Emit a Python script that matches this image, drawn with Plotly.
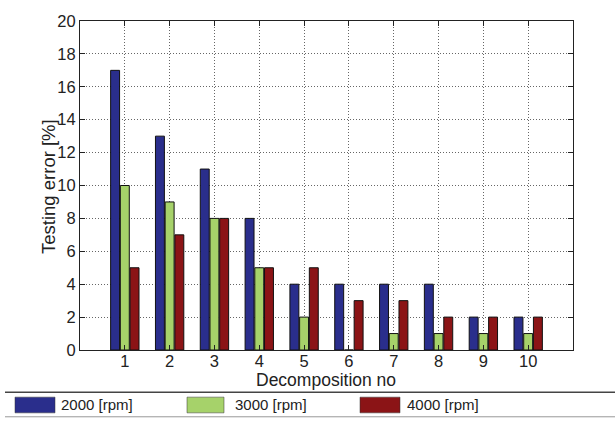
import plotly.graph_objects as go

categories = [1, 2, 3, 4, 5, 6, 7, 8, 9, 10]
rpm_2000 = [17, 13, 11, 8, 4, 4, 4, 4, 2, 2]
rpm_3000 = [10, 9, 8, 5, 2, 0, 1, 1, 1, 1]
rpm_4000 = [5, 7, 8, 5, 5, 3, 3, 2, 2, 2]
series_names = ["2000 [rpm]", "3000 [rpm]", "4000 [rpm]"]
colors = ["#2a2e8c", "#a6d26a", "#8b1416"]

FONT = "Liberation Sans, Arial, sans-serif"
W, H = 615, 422
L, R, T, B = 80, 42, 15, 72
pw, ph = W - L - R, H - T - B

def px2x(px):
    return (px - L) / pw

def py2y(py):
    return (H - B - py) / ph

fig = go.Figure()
for name, vals, c in zip(series_names, [rpm_2000, rpm_3000, rpm_4000], colors):
    fig.add_trace(go.Bar(x=categories, y=vals, name=name, marker=dict(color=c, line=dict(color="#111111", width=1)),
                         showlegend=False))

axis_common = dict(showline=True, linecolor="#222222", linewidth=1, mirror="ticks", ticks="inside",
                   ticklen=5, tickcolor="#222222", showgrid=True, gridcolor="#666666", griddash="1px,2px",
                   gridwidth=1, zeroline=False, tickfont=dict(family=FONT, size=16.5, color="#222222"))

fig.update_layout(
    width=W, height=H, margin=dict(l=L, r=R, t=T, b=B),
    paper_bgcolor="white", plot_bgcolor="white",
    barmode="group", bargap=0.35, bargroupgap=0.08,
    font=dict(family=FONT, color="#222222"),
    xaxis=dict(range=[0, 11], tickvals=categories, ticklabelstandoff=-4, **axis_common),
    yaxis=dict(range=[0, 20], dtick=2, **axis_common),
)

# Legend box drawn manually (matlab-style large swatches)
shapes = [
    dict(type="line", xref="paper", yref="paper", x0=px2x(5), x1=px2x(615), y0=py2y(393), y1=py2y(393),
         line=dict(color="#444444", width=1.5)),
    dict(type="line", xref="paper", yref="paper", x0=px2x(5), x1=px2x(615), y0=py2y(418), y1=py2y(418),
         line=dict(color="#999999", width=1)),
]
swatches = [(15, 55, 59), (187, 224, 233), (360, 400, 405)]
annotations = [
    dict(text="Decomposition no", xref="paper", yref="paper", x=px2x(326), y=py2y(381),
         xanchor="center", yanchor="middle", showarrow=False, font=dict(family=FONT, size=17.5, color="#222222")),
    dict(text="Testing error [%]", xref="paper", yref="paper", x=px2x(49), y=py2y(184), textangle=-90,
         xanchor="center", yanchor="middle", showarrow=False, font=dict(family=FONT, size=18.5, color="#222222")),
]
for (x0, x1, tx), name, c in zip(swatches, series_names, colors):
    shapes.append(dict(type="rect", xref="paper", yref="paper", x0=px2x(x0), x1=px2x(x1),
                       y0=py2y(414), y1=py2y(398), fillcolor=c, line=dict(color="#333333", width=0.5)))
    annotations.append(dict(text=name, xref="paper", yref="paper", x=px2x(tx), y=py2y(406),
                            xanchor="left", yanchor="middle", showarrow=False,
                            font=dict(family=FONT, size=15, color="#222222")))
fig.update_layout(shapes=shapes, annotations=annotations)

fig.write_html("out.html")
